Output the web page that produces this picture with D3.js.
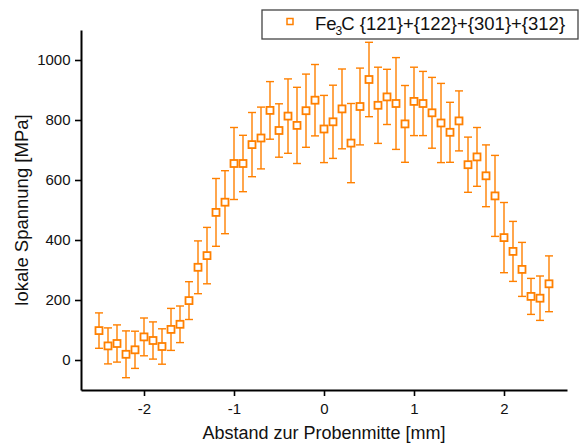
<!DOCTYPE html>
<html>
<head>
<meta charset="utf-8">
<script src="https://cdn.jsdelivr.net/npm/d3@7"></script>
<style>
html,body{margin:0;padding:0;background:#fff;}
svg{display:block;font-family:Arial,"Liberation Sans",sans-serif;}
</style>
</head>
<body>
<svg id="chart" width="579" height="445"></svg>
<script>
const xPos = [-2.5,-2.4,-2.3,-2.2,-2.1,-2.0,-1.9,-1.8,-1.7,-1.6,-1.5,-1.4,-1.3,-1.2,-1.1,-1.0,-0.9,-0.8,-0.7,-0.6,-0.5,-0.4,-0.3,-0.2,-0.1,0.0,0.1,0.2,0.3,0.4,0.5,0.6,0.7,0.8,0.9,1.0,1.1,1.2,1.3,1.4,1.5,1.6,1.7,1.8,1.9,2.0,2.1,2.2,2.3,2.4,2.5];
const stress = [98,47,55,19,34,77,65,45,102,119,198,309,348,492,526,655,655,718,740,832,765,813,782,831,866,770,794,837,723,845,935,849,877,855,787,862,855,824,790,759,797,651,677,614,547,408,362,302,212,206,254];
const stressErr = [59,60,62,78,62,63,62,59,70,61,63,88,94,113,105,120,94,107,103,96,89,124,127,122,119,112,122,133,132,128,124,127,92,153,128,114,107,118,132,100,100,92,98,103,135,117,100,90,60,74,93];
const xTicks = [-2,-1,0,1,2];
const xMinor = [-2.5,-1.5,-0.5,0.5,1.5,2.5];
const yTicks = [0,200,400,600,800,1000];
const yMinor = [-100,100,300,500,700,900,1100];
const legendLabel = ["Fe","3","C {121}+{122}+{301}+{312}"];
const xTitle = "Abstand zur Probenmitte [mm]";
const yTitle = "lokale Spannung [MPa]";

const color = "#ff8000";
const svg = d3.select("#chart");
const L = 81, R = 567, T = 30, B = 390;
const x = d3.scaleLinear().domain([-2.7,2.7]).range([L,R]);
const y = d3.scaleLinear().domain([-100,1100]).range([B,T]);
const fmt = d => String(d);

// axes
const gx = svg.append("g").attr("transform",`translate(0,${B})`);
gx.call(d3.axisBottom(x).tickValues(xMinor).tickFormat("").tickSize(3).tickSizeOuter(0));
gx.call(d3.axisBottom(x).tickValues(xTicks).tickFormat(fmt).tickSize(6).tickSizeOuter(0));
const gy = svg.append("g").attr("transform",`translate(${L},0)`);
gy.call(d3.axisLeft(y).tickValues(yMinor).tickFormat("").tickSize(4).tickSizeOuter(0));
gy.call(d3.axisLeft(y).tickValues(yTicks).tickFormat(fmt).tickSize(6).tickSizeOuter(0));
svg.selectAll(".domain").attr("stroke","#000").attr("stroke-width",2);
svg.selectAll(".tick line").attr("stroke","#000").attr("stroke-width",1.6);
gx.selectAll(".tick text").attr("font-size",15).attr("fill","#111").attr("dy","1.0em").attr("font-family","Arial,'Liberation Sans',sans-serif");
gy.selectAll(".tick text").attr("font-size",15).attr("fill","#111").attr("dx","-0.1em").attr("font-family","Arial,'Liberation Sans',sans-serif");

// titles
svg.append("text").attr("x",(L+R)/2).attr("y",439).attr("text-anchor","middle")
  .attr("font-size",18).attr("fill","#111").text(xTitle);
svg.append("text").attr("transform",`translate(28,${(T+B)/2}) rotate(-90)`).attr("text-anchor","middle")
  .attr("font-size",18.5).attr("fill","#111").text(yTitle);

// error bars and markers
const data = xPos.map((d,i)=>({x:d,y:stress[i],e:stressErr[i]}));
const gp = svg.append("g");
const cap = 4;
gp.selectAll("line.v").data(data).join("line").attr("class","v")
  .attr("x1",d=>x(d.x)).attr("x2",d=>x(d.x)).attr("y1",d=>y(d.y-d.e)).attr("y2",d=>y(d.y+d.e))
  .attr("stroke",color).attr("stroke-width",1.4);
gp.selectAll("line.t").data(data).join("line").attr("class","t")
  .attr("x1",d=>x(d.x)-cap).attr("x2",d=>x(d.x)+cap).attr("y1",d=>y(d.y+d.e)).attr("y2",d=>y(d.y+d.e))
  .attr("stroke",color).attr("stroke-width",1.4);
gp.selectAll("line.b").data(data).join("line").attr("class","b")
  .attr("x1",d=>x(d.x)-cap).attr("x2",d=>x(d.x)+cap).attr("y1",d=>y(d.y-d.e)).attr("y2",d=>y(d.y-d.e))
  .attr("stroke",color).attr("stroke-width",1.4);
const ms = 7;
gp.selectAll("rect").data(data).join("rect")
  .attr("x",d=>x(d.x)-ms/2).attr("y",d=>y(d.y)-ms/2).attr("width",ms).attr("height",ms)
  .attr("fill","#fff").attr("stroke",color).attr("stroke-width",1.8);

// legend
const lg = svg.append("g");
lg.append("rect").attr("x",262).attr("y",10).attr("width",316).attr("height",29)
  .attr("fill","#fff").attr("stroke","#444").attr("stroke-width",1.3);
lg.append("rect").attr("x",287).attr("y",18.5).attr("width",6).attr("height",6)
  .attr("fill","#fff").attr("stroke",color).attr("stroke-width",1.5);
const lt = lg.append("text").attr("x",315).attr("y",30).attr("font-size",18.5).attr("fill","#111");
lt.append("tspan").text(legendLabel[0]);
lt.append("tspan").attr("font-size",12).attr("dx",-1).attr("dy",5).text(legendLabel[1]);
lt.append("tspan").attr("dx",-1).attr("dy",-5).text(legendLabel[2]);
</script>
</body>
</html>
